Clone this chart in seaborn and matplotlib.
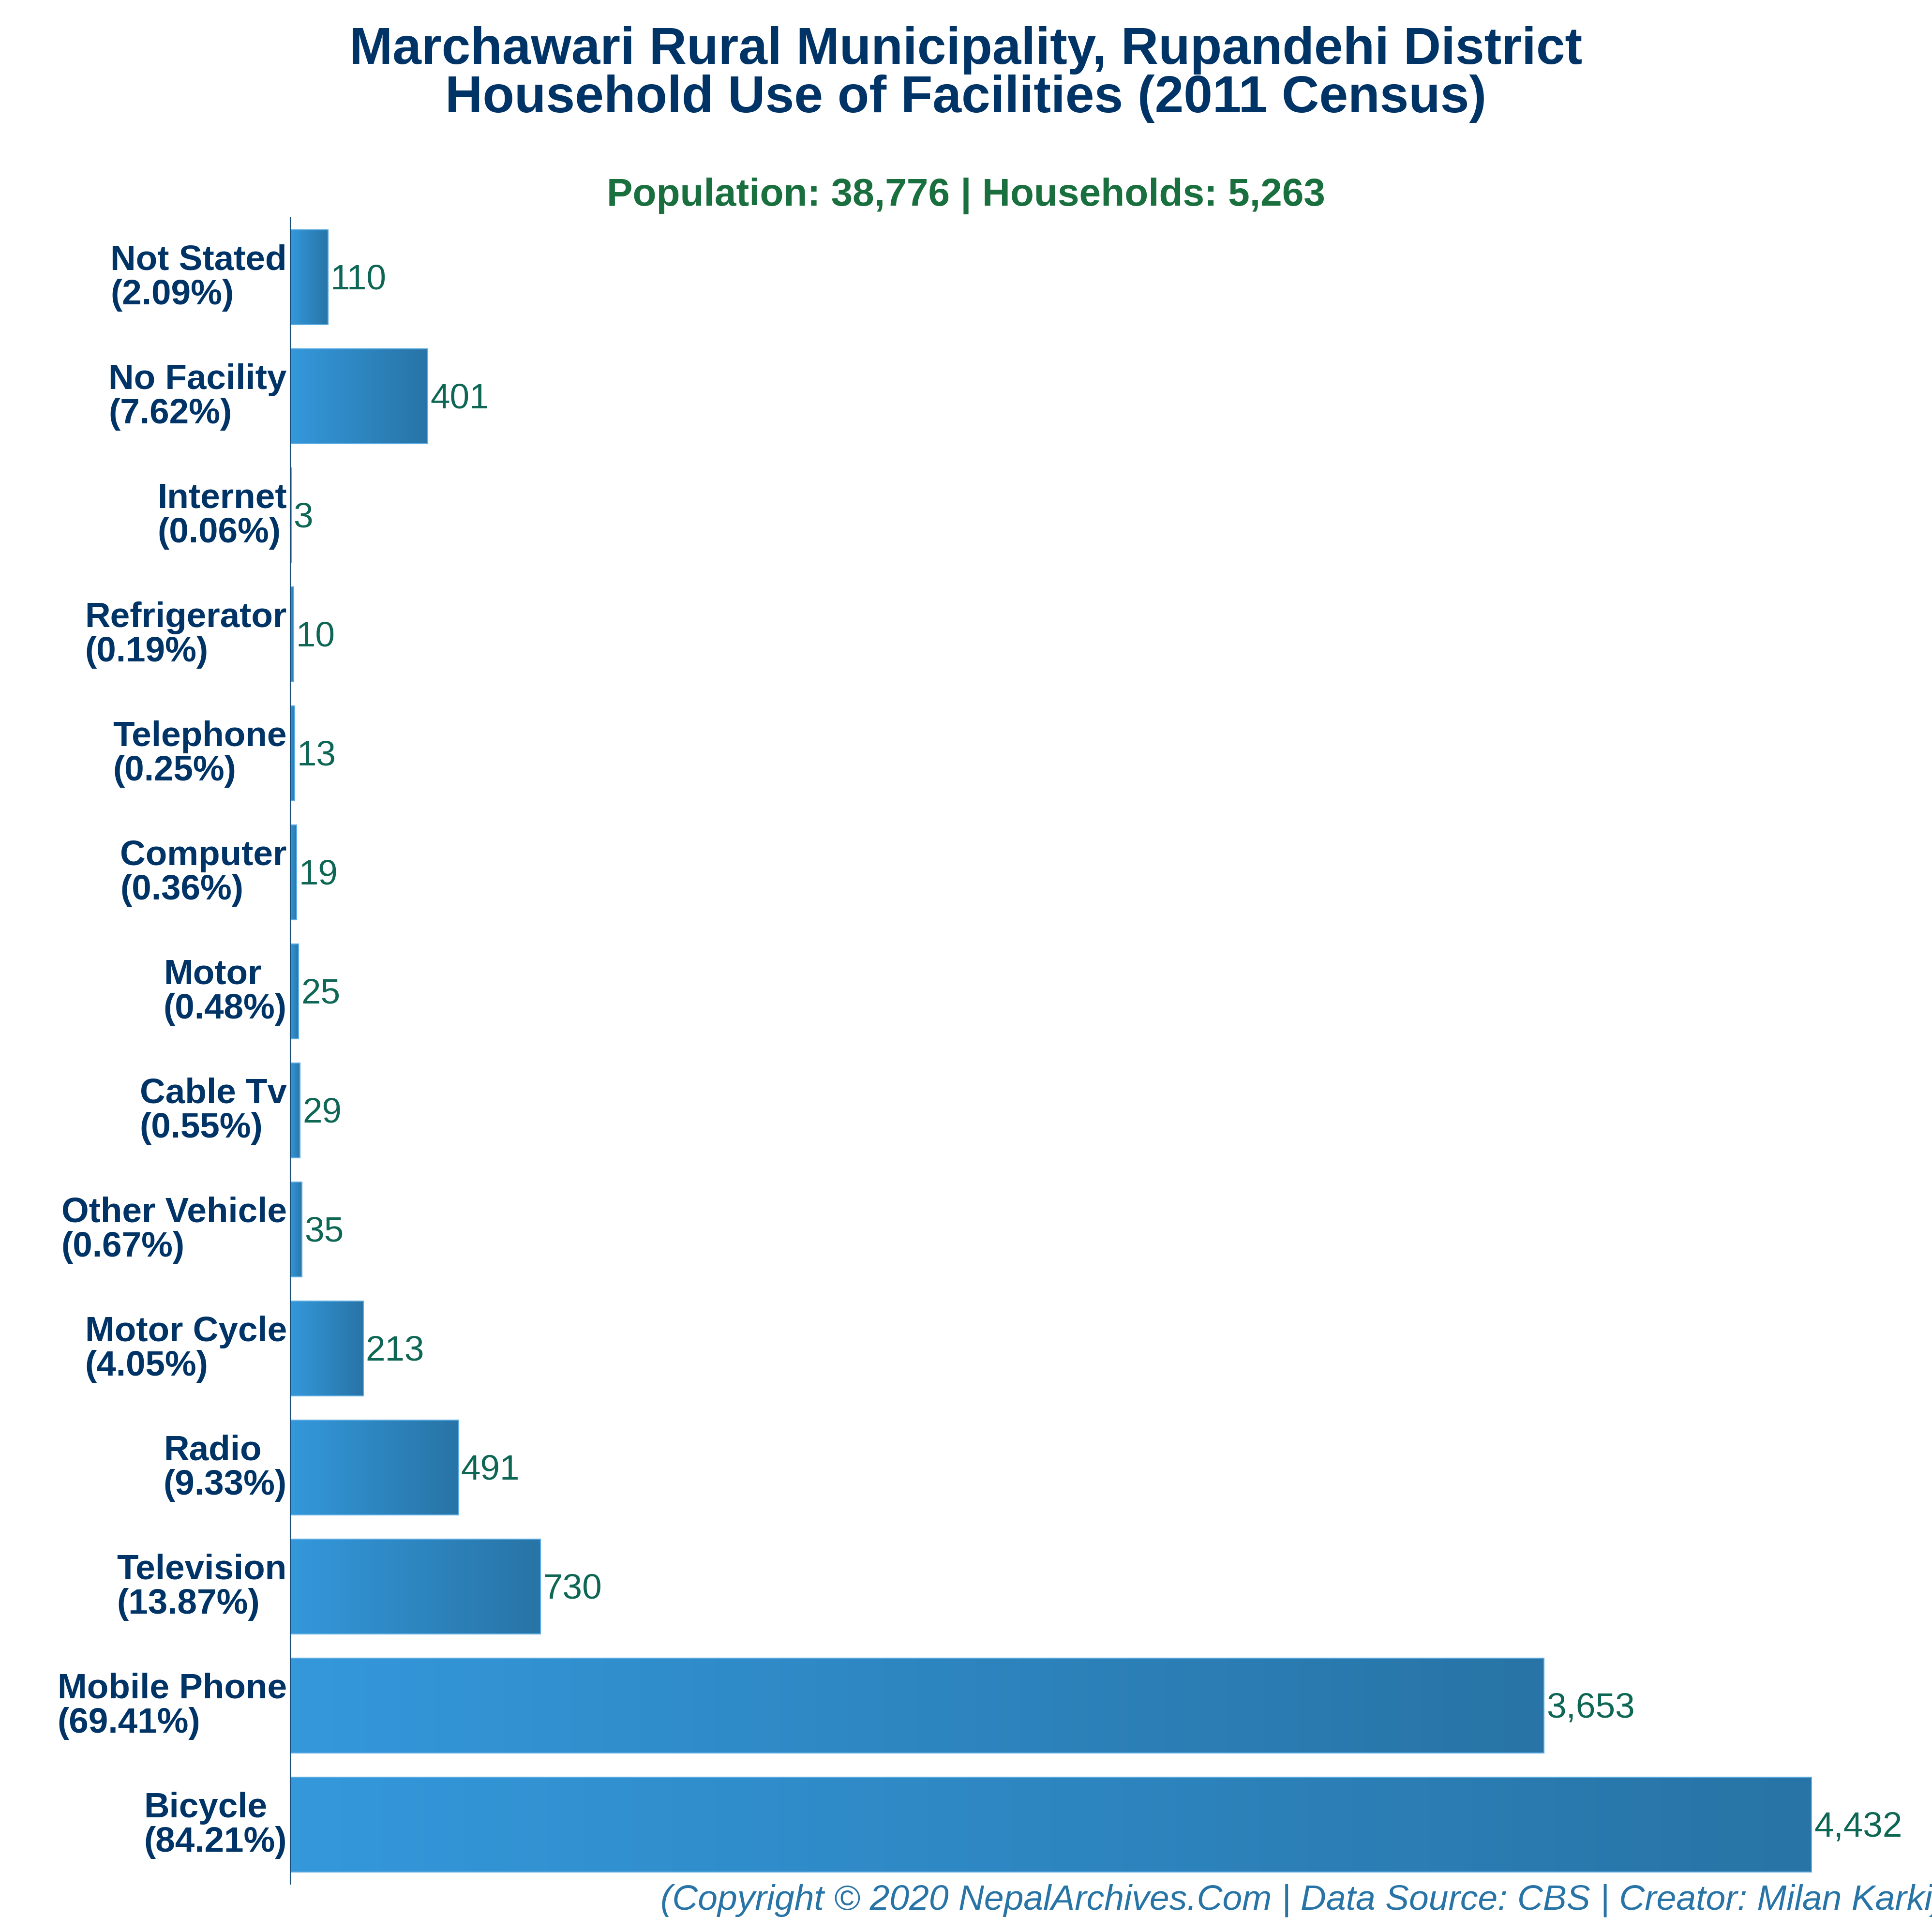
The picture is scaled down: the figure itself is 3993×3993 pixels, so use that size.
import numpy as np
import matplotlib
matplotlib.use("Agg")
import matplotlib.pyplot as plt
from matplotlib.colors import LinearSegmentedColormap
from matplotlib.transforms import ScaledTranslation
import seaborn as sns

categories = ["Not Stated", "No Facility", "Internet", "Refrigerator", "Telephone", "Computer", "Motor",
              "Cable Tv", "Other Vehicle", "Motor Cycle", "Radio", "Television", "Mobile Phone", "Bicycle"]
percentages = ["2.09", "7.62", "0.06", "0.19", "0.25", "0.36", "0.48",
               "0.55", "0.67", "4.05", "9.33", "13.87", "69.41", "84.21"]
households = [110, 401, 3, 10, 13, 19, 25, 29, 35, 213, 491, 730, 3653, 4432]
title_text = "Marchawari Rural Municipality, Rupandehi District\nHousehold Use of Facilities (2011 Census)"
subtitle_text = "Population: 38,776 | Households: 5,263"
credit_text = "(Copyright © 2020 NepalArchives.Com | Data Source: CBS | Creator: Milan Karki)"

sns.set_theme(style="white")
plt.rcParams["font.family"] = ["Liberation Sans", "DejaVu Sans"]

W = 3993
fig = plt.figure(figsize=(W / 300, W / 300), dpi=300, facecolor="white")
ax = fig.add_axes([599.5 / W, 1 - 3894 / W, (W - 599.5) / W, (3894 - 450) / W])

labels = [f"{c}\n({p}%)" for c, p in zip(categories, percentages)]
sns.barplot(y=labels, x=households, orient="h", width=0.8, color="#3498db",
            edgecolor="#5dade2", linewidth=0.5, ax=ax, zorder=2)

cmap = LinearSegmentedColormap.from_list("bar", ["#3498db", "#2874a6"])
grad = np.linspace(0, 1, 256).reshape(1, -1)
value_offset = ax.transData + ScaledTranslation(5 / 300, 2 / 300, fig.dpi_scale_trans)
for bar, v in zip(ax.patches, households):
    x0, y0, w, h = bar.get_x(), bar.get_y(), bar.get_width(), bar.get_height()
    ax.imshow(grad, cmap=cmap, extent=(x0, x0 + w, y0 + h, y0), aspect="auto",
              zorder=1.5, interpolation="bilinear")
    bar.set_facecolor("none")
    ax.text(x0 + w, y0 + h / 2, f"{v:,}", ha="left", va="center_baseline",
            fontsize=17.5, color="#0e6655", transform=value_offset, clip_on=False)

ax.set_xlim(0, (W - 599.5) / 0.7095)
ax.set_ylim(len(labels) - 0.5, -0.5)

ax.set_xlabel("")
ax.set_ylabel("")
ax.set_xticks([])
ax.tick_params(axis="y", length=0, pad=1.6)
for t in ax.get_yticklabels():
    t.set_fontsize(17.5)
    t.set_fontweight("bold")
    t.set_color("#003366")
    t.set_ha("right")
    t.set_multialignment("left")
    t.set_linespacing(1.07)
    t.set_transform(t.get_transform() + ScaledTranslation(0, 8 / 300, fig.dpi_scale_trans))

for s in ["top", "right", "bottom"]:
    ax.spines[s].set_visible(False)
ax.spines["left"].set_color("#1a4f7a")
ax.spines["left"].set_linewidth(0.5)

fig.text(0.5, 1 - 154 / W, title_text, ha="center", va="center", fontsize=25.75, fontweight="bold",
         color="#003366", linespacing=0.99)
fig.text(0.5, 1 - 405 / W, subtitle_text, ha="center", va="center", fontsize=19.26, fontweight="bold",
         color="#196f3d")
fig.text(1365 / W, 1 - 3928 / W, credit_text, ha="left", va="center", fontsize=17.6, style="italic",
         color="#2874a6")

fig.savefig("out.png", dpi=300, facecolor="white")
